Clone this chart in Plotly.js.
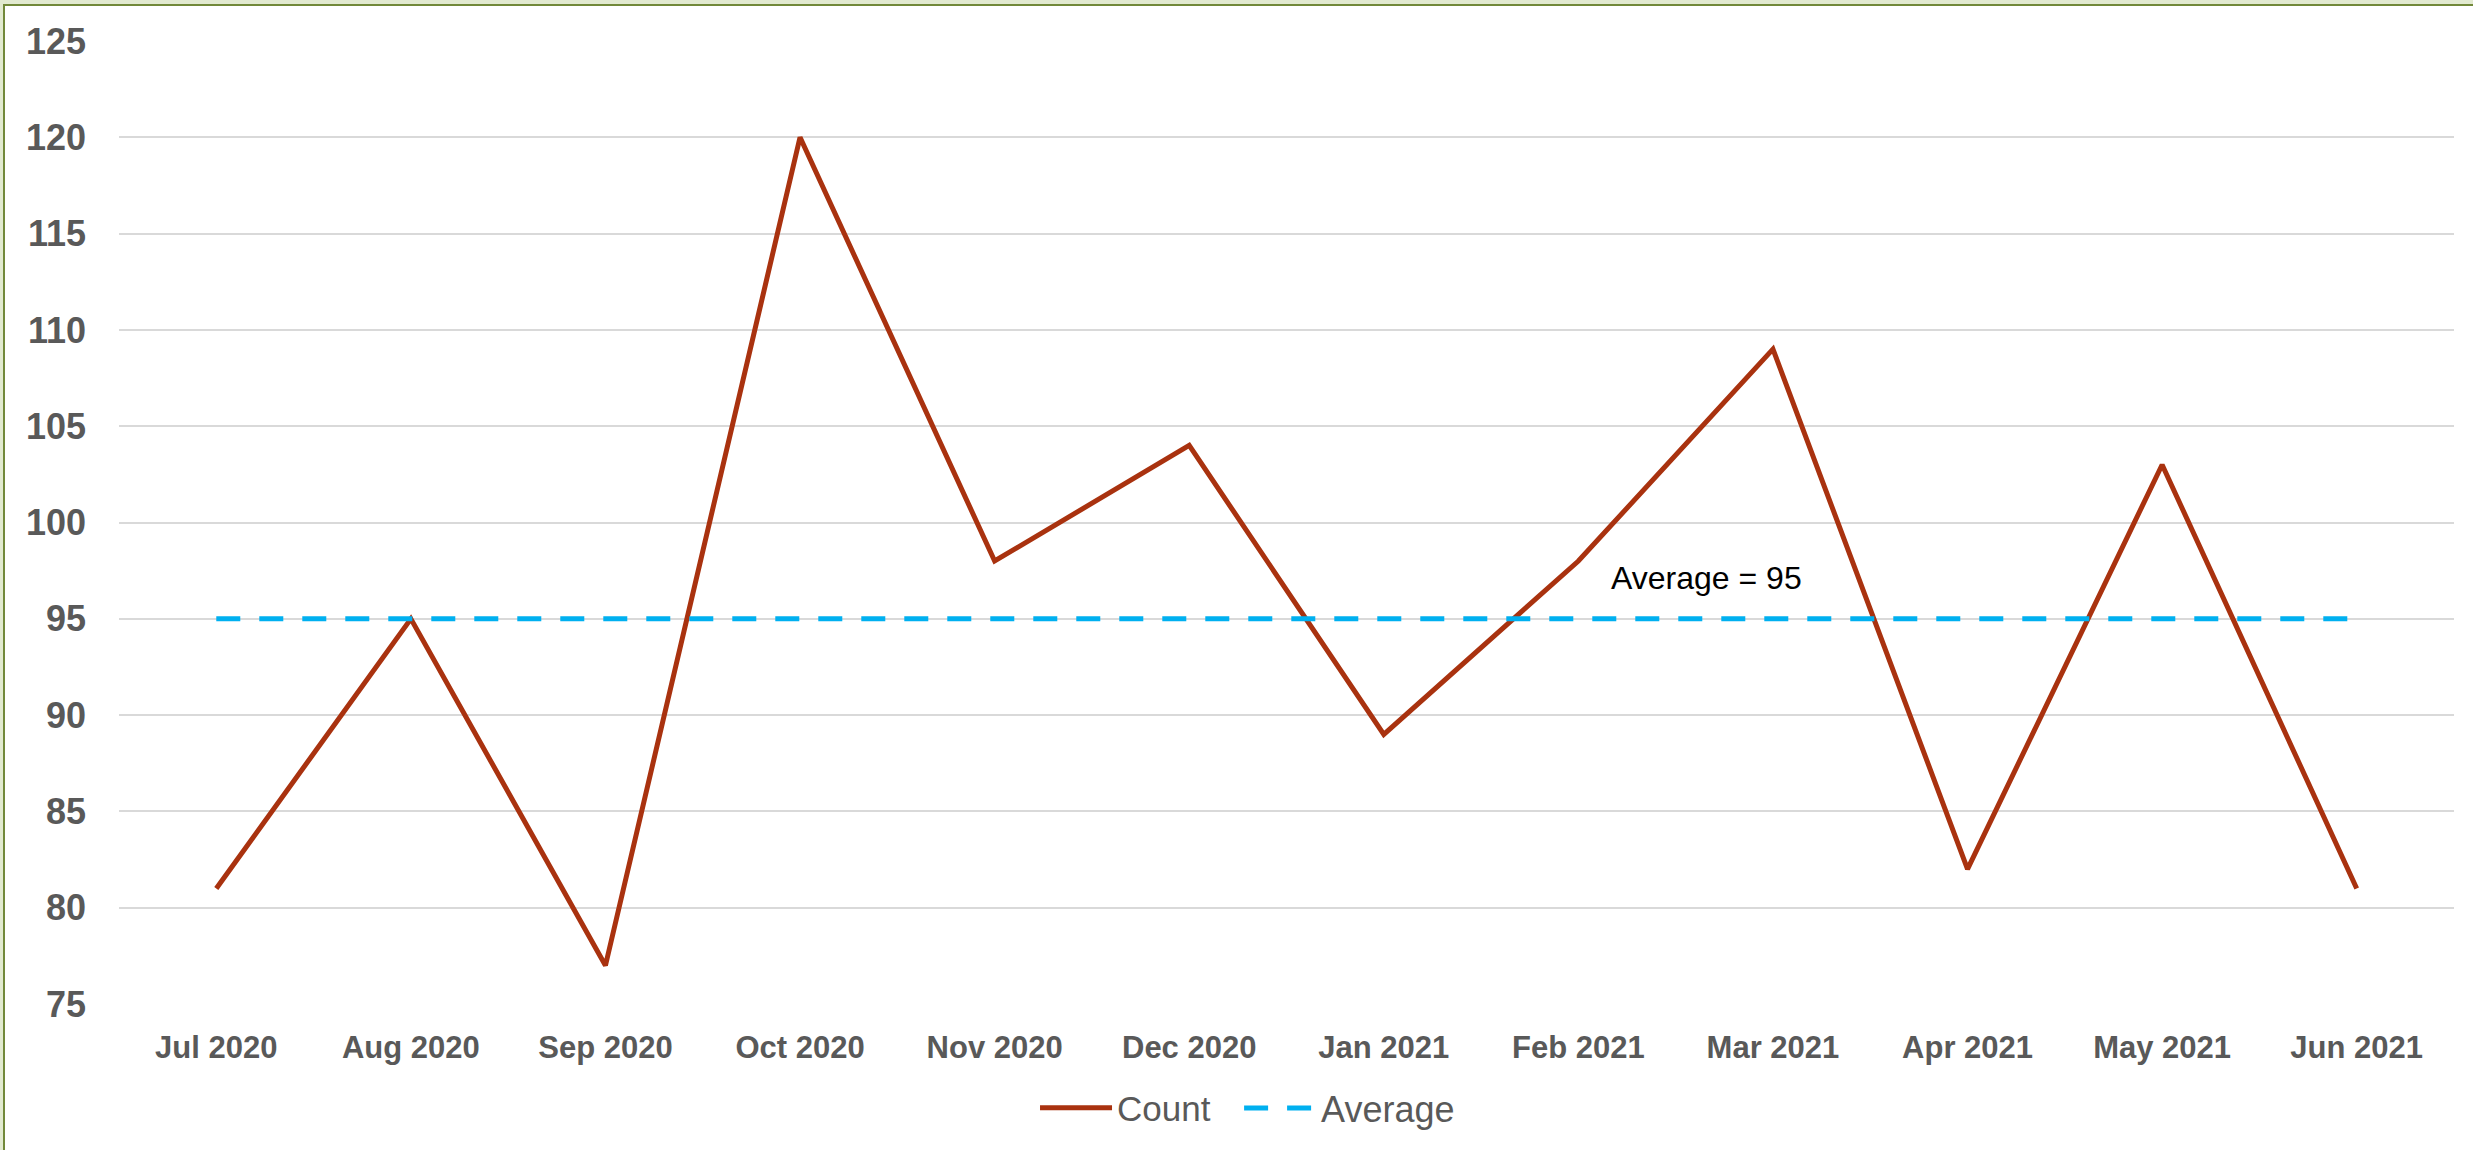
<!DOCTYPE html>
<html>
<head>
<meta charset="utf-8">
<script src="https://cdn.plot.ly/plotly-3.0.1.min.js"></script>
<style>
  html, body { margin: 0; padding: 0; background: #ffffff; overflow: hidden; }
  #wrap { position: relative; width: 2473px; height: 1150px; }
  #chart { position: absolute; left: 0; top: 0; width: 2473px; height: 1150px; }
  .strip-top { position: absolute; left: 0; top: 0; width: 2473px; height: 4px; background: #E2EAD0; }
  .strip-left { position: absolute; left: 0; top: 0; width: 3px; height: 1150px; background: #E2EAD0; }
  .bord-top { position: absolute; left: 3px; top: 4px; width: 2470px; height: 2px; background: #72893A; }
  .bord-left { position: absolute; left: 3px; top: 4px; width: 2px; height: 1146px; background: #72893A; }
</style>
</head>
<body>
<div id="wrap">
  <div id="chart"></div>
  <div class="strip-top"></div>
  <div class="strip-left"></div>
  <div class="bord-top"></div>
  <div class="bord-left"></div>
</div>
<script>
const months = ["Jul 2020", "Aug 2020", "Sep 2020", "Oct 2020", "Nov 2020", "Dec 2020",
                "Jan 2021", "Feb 2021", "Mar 2021", "Apr 2021", "May 2021", "Jun 2021"];
const counts = [81, 95, 77, 120, 98, 104, 89, 98, 109, 82, 103, 81];
const averageValue = 95;
const averageSeries = months.map(() => averageValue);
const yTicks = [75, 80, 85, 90, 95, 100, 105, 110, 115, 120, 125];
const annotationText = "Average = 95";

const FONT = "Liberation Sans, Arial, sans-serif";

const traces = [
  {
    x: months, y: counts, name: "Count", type: "scatter", mode: "lines",
    line: { color: "#A9320F", width: 5 }, legend: "legend"
  },
  {
    x: months, y: averageSeries, name: "Average", type: "scatter", mode: "lines",
    line: { color: "#00B0F0", width: 5, dash: "24px,19px" }, legend: "legend2"
  }
];

const legendCommon = {
  orientation: "h", xanchor: "left", y: -0.108, yanchor: "middle",
  font: { family: FONT, size: 35, color: "#595959" },
  itemwidth: 72, bgcolor: "rgba(0,0,0,0)"
};

const layout = {
  width: 2473, height: 1150,
  paper_bgcolor: "#ffffff", plot_bgcolor: "#ffffff",
  margin: { l: 119, r: 19, t: 41, b: 144 },
  showlegend: true,
  legend: Object.assign({}, legendCommon, { x: 0.3923 }),
  legend2: Object.assign({}, legendCommon, { x: 0.4797, font: { family: FONT, size: 36, color: "#595959" } }),
  xaxis: {
    type: "category",
    range: [-0.5, 11.5],
    showgrid: false, zeroline: false, showline: false,
    ticks: "",
    tickfont: { family: FONT, size: 31, color: "#595959", weight: "bold" },
    ticklabelstandoff: 22,
    fixedrange: true
  },
  yaxis: {
    range: [75, 125],
    tickvals: yTicks,
    ticktext: yTicks.map(String),
    showgrid: true, gridcolor: "#D9D9D9", gridwidth: 2,
    zeroline: false, showline: false, ticks: "",
    tickfont: { family: FONT, size: 36, color: "#595959", weight: "bold" },
    ticklabelstandoff: 32,
    fixedrange: true
  },
  annotations: [
    {
      x: 7.66, y: 97.1, xref: "x", yref: "y",
      text: annotationText, showarrow: false,
      font: { family: FONT, size: 32, color: "#000000" },
      xanchor: "center", yanchor: "middle"
    }
  ]
};

Plotly.newPlot("chart", traces, layout, { displayModeBar: false, staticPlot: true });
</script>
</body>
</html>
